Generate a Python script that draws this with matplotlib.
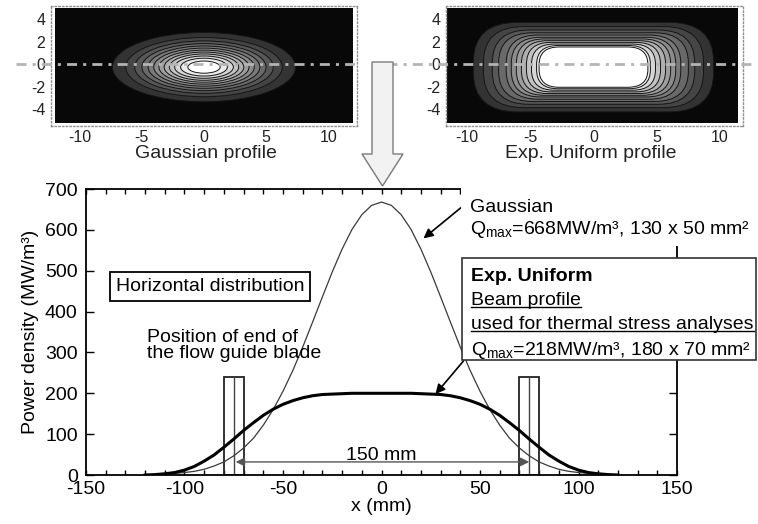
"""Gaussian vs. Exp. Uniform beam power density: 2D profiles and horizontal cut."""

import matplotlib

matplotlib.use("Agg")
import matplotlib.pyplot as plt
from matplotlib.lines import Line2D
from matplotlib.patches import Ellipse, FancyBboxPatch, Polygon, Rectangle
from matplotlib.ticker import MultipleLocator

plt.rcParams["font.family"] = ["Liberation Sans", "DejaVu Sans"]
plt.rcParams["mathtext.fontset"] = "custom"
plt.rcParams["mathtext.rm"] = "Liberation Sans"
plt.rcParams["mathtext.it"] = "Liberation Sans:italic"
plt.rcParams["mathtext.bf"] = "Liberation Sans:bold"
plt.rcParams["axes.unicode_minus"] = False

W, H = 758, 524
FS = 14

# ---- horizontal distribution, x in mm, Q in MW/m3
x_mm = [-120, -115, -110, -105, -100, -95, -90, -85, -80, -75, -70, -65, -60,
        -55, -50, -45, -40, -35, -30, -25, -20, -15, -10, -5, 0,
        5, 10, 15, 20, 25, 30, 35, 40, 45, 50, 55, 60,
        65, 70, 75, 80, 85, 90, 95, 100, 105, 110, 115, 120]
gaussian_q = [0, 1, 2, 4, 6, 9, 14, 22, 32, 47, 66, 90, 122,
              160, 205, 256, 313, 374, 436, 497, 553, 601, 637, 660, 668,
              660, 637, 601, 553, 497, 436, 374, 313, 256, 205, 160, 122,
              90, 66, 47, 32, 22, 14, 9, 6, 4, 2, 1, 0]
exp_uniform_q = [0, 1, 3, 6, 12, 21, 34, 49, 68, 88, 109, 128, 146,
                 161, 173, 182, 189, 194, 197, 198, 199, 200, 200, 200, 200,
                 200, 200, 200, 199, 198, 197, 194, 189, 182, 173, 161, 146,
                 128, 109, 88, 68, 49, 34, 21, 12, 6, 3, 1, 0]

# flow guide blade ends (mm) and drawn height
blade_edges = [(-80, -70), (70, 80)]
blade_mid = [-75, 75]
blade_top = 240
span_ends = [-74, 75]  # "150 mm" arrow
span_level = 32

# ---- 2D contour rings (cm), outermost first
ring_center_y = -0.25
gauss_ring_ax = [7.36, 6.29, 5.57, 4.99, 4.49, 4.04, 3.62, 3.20, 2.79, 2.36, 1.88, 1.30]
gauss_ring_by = [3.08, 2.63, 2.33, 2.09, 1.88, 1.69, 1.51, 1.34, 1.17, 0.99, 0.79, 0.54]
exp_ring_ax = [9.5, 8.7, 8.0, 7.5, 6.9, 6.5, 6.1, 5.7, 5.3, 4.9, 4.5, 4.3]
exp_ring_by = [3.98, 3.6, 3.3, 3.05, 2.85, 2.65, 2.5, 2.35, 2.2, 2.05, 1.92, 1.79]
ring_grey = [0.20, 0.27, 0.34, 0.41, 0.48, 0.55, 0.62, 0.69, 0.76, 0.84, 0.92, 1.0]


def fx(px):
    return px / W


def fy(py):
    return 1 - py / H


fig = plt.figure(figsize=(W / 100, H / 100), dpi=100)

# ---------------- top: 2D profiles ----------------
dashdot = (0, (3.6, 2.2, 1.1, 2.2))


def profile_axes(left, width, xlim, img_x, label, label_x):
    a = fig.add_axes([fx(left), fy(126), fx(width), 120 / H])
    a.set_xlim(*xlim)
    a.set_ylim(-5.48, 5.18)
    a.add_patch(Rectangle((img_x[0], -5.2), img_x[1] - img_x[0], 10.2,
                          facecolor="#080808", edgecolor="none", zorder=0))
    for s in a.spines.values():
        s.set_linestyle(":")
        s.set_color("#909090")
        s.set_linewidth(1.0)
    a.set_xticks([-10, -5, 0, 5, 10])
    a.set_yticks([-4, -2, 0, 2, 4])
    a.tick_params(length=0, labelsize=11.5, colors="#222222")
    a.tick_params(axis="y", pad=4)
    a.tick_params(axis="x", pad=3)
    fig.text(fx(label_x), fy(153), label, fontsize=FS, ha="center", va="center",
             color="#222222")
    return a


ax_g = profile_axes(51, 306, (-12.3, 12.3), (-12.0, 12.0), "Gaussian profile", 206)
for a_, b_, g_ in zip(gauss_ring_ax, gauss_ring_by, ring_grey):
    ax_g.add_patch(Ellipse((0, ring_center_y), 2 * a_, 2 * b_, facecolor=str(g_),
                           edgecolor="#151515", lw=0.7, zorder=1))
ax_g.plot([-15.1, 12.5], [0, 0], color="#b4b4b4", lw=2, linestyle=dashdot,
          clip_on=False, zorder=5)

ax_e = profile_axes(446, 297, (-11.66, 11.82), (-11.6, 11.4), "Exp. Uniform profile", 591)
for a_, b_, g_ in zip(exp_ring_ax, exp_ring_by, ring_grey):
    ax_e.add_patch(FancyBboxPatch((-a_, ring_center_y - b_), 2 * a_, 2 * b_,
                                  boxstyle=f"round,pad=0,rounding_size={0.88 * b_:.2f}",
                                  facecolor=str(g_), edgecolor="#151515", lw=0.7,
                                  zorder=1))
ax_e.plot([-16.3, 12.9], [0, 0], color="#b4b4b4", lw=2, linestyle=dashdot,
          clip_on=False, zorder=5)

# big hollow arrow between top and bottom
arrow_px = [(372, 62), (393, 62), (393, 154), (403, 154), (382.5, 186),
            (362, 154), (372, 154)]
fig.add_artist(Polygon([(fx(x), fy(y)) for x, y in arrow_px], closed=True,
                       transform=fig.transFigure, facecolor="#f2f2f2",
                       edgecolor="#7a7a7a", lw=1.0, zorder=2))

# ---------------- bottom: horizontal distribution ----------------
ax = fig.add_axes([fx(86), fy(475), 591 / W, 286 / H])
ax.set_xlim(-150, 150)
ax.set_ylim(0, 700)

ax.plot(x_mm, gaussian_q, color="#3a3a3a", lw=0.9, zorder=3)
ax.plot(x_mm, exp_uniform_q, color="black", lw=2.2, zorder=4)

for (x0, x1), xm in zip(blade_edges, blade_mid):
    ax.add_patch(Rectangle((x0, 0), x1 - x0, blade_top, fill=False,
                           edgecolor="#222222", lw=1.3, zorder=2))
    ax.plot([xm, xm], [0, blade_top], color="#444444", lw=1.0, zorder=2)

ax.annotate("", xy=(span_ends[0], span_level), xytext=(span_ends[1], span_level),
            arrowprops=dict(arrowstyle="<|-|>", color="#555555", lw=1.0,
                            mutation_scale=13, shrinkA=0, shrinkB=0), zorder=5)
ax.text(0, 37, "150 mm", fontsize=FS, ha="center", va="baseline")

ax.text(-87, 462, "Horizontal distribution", fontsize=FS, ha="center", va="center",
        bbox=dict(boxstyle="square,pad=0.3", facecolor="white", edgecolor="black",
                  lw=1.3), zorder=6)
ax.text(-118.8, 317, "Position of end of\nthe flow guide blade", fontsize=FS,
        ha="left", va="center", linespacing=0.98, zorder=6)

ax.xaxis.set_major_locator(MultipleLocator(50))
ax.xaxis.set_minor_locator(MultipleLocator(10))
ax.yaxis.set_major_locator(MultipleLocator(100))
ax.tick_params(axis="x", which="both", direction="in", top=True, length=3.5,
               width=1.0, labelsize=FS, pad=4)
ax.tick_params(axis="y", direction="in", right=True, length=5.5, width=1.0,
               labelsize=FS, pad=6)
for s in ax.spines.values():
    s.set_linewidth(1.3)
ax.set_xlabel("x (mm)", fontsize=FS, labelpad=0)
ax.set_ylabel("Power density (MW/m³)", fontsize=FS, labelpad=4)

# Gaussian callout (white background hides the upper-right frame)
fig.add_artist(Rectangle((fx(461), fy(246)), fx(758 - 461), 60 / H,
                         transform=fig.transFigure, facecolor="white",
                         edgecolor="none", zorder=5))
fig.text(fx(470), fy(212), "Gaussian", fontsize=FS, va="baseline", zorder=6)
fig.text(fx(470), fy(234), r"Q$_{\mathrm{max}}$=668MW/m³, 130 x 50 mm²",
         fontsize=FS, va="baseline", zorder=6)
ax.annotate("", xy=(21.3, 579), xytext=(40.5, 655), annotation_clip=False,
            arrowprops=dict(arrowstyle="-|>", color="black", lw=1.2,
                            mutation_scale=14, shrinkA=0, shrinkB=0), zorder=7)

# Exp. Uniform callout box
fig.add_artist(Rectangle((fx(462), fy(360)), fx(756 - 462), 102 / H,
                         transform=fig.transFigure, facecolor="white",
                         edgecolor="#333333", lw=1.2, zorder=5))
fig.text(fx(471), fy(281), "Exp. Uniform", fontsize=FS, fontweight="bold",
         va="baseline", zorder=6)
t_beam = fig.text(fx(471), fy(305), "Beam profile", fontsize=FS, va="baseline",
                  zorder=6)
t_used = fig.text(fx(471), fy(329), "used for thermal stress analyses", fontsize=FS,
                  va="baseline", zorder=6)
fig.text(fx(471), fy(355), r"Q$_{\mathrm{max}}$=218MW/m³, 180 x 70 mm²",
         fontsize=FS, va="baseline", zorder=6)
ax.annotate("", xy=(27.4, 198), xytext=(41.6, 279), annotation_clip=False,
            arrowprops=dict(arrowstyle="-|>", color="black", lw=1.2,
                            mutation_scale=14, shrinkA=0, shrinkB=0), zorder=7)

# underline the two middle lines of the box
fig.canvas.draw()
renderer = fig.canvas.get_renderer()
for t, y in ((t_beam, 307), (t_used, 331)):
    bb = t.get_window_extent(renderer)
    fig.add_artist(Line2D([bb.x0 / W, bb.x1 / W], [fy(y), fy(y)],
                          transform=fig.transFigure, color="black", lw=1.0,
                          zorder=7))

fig.savefig("out.png", dpi=100)
